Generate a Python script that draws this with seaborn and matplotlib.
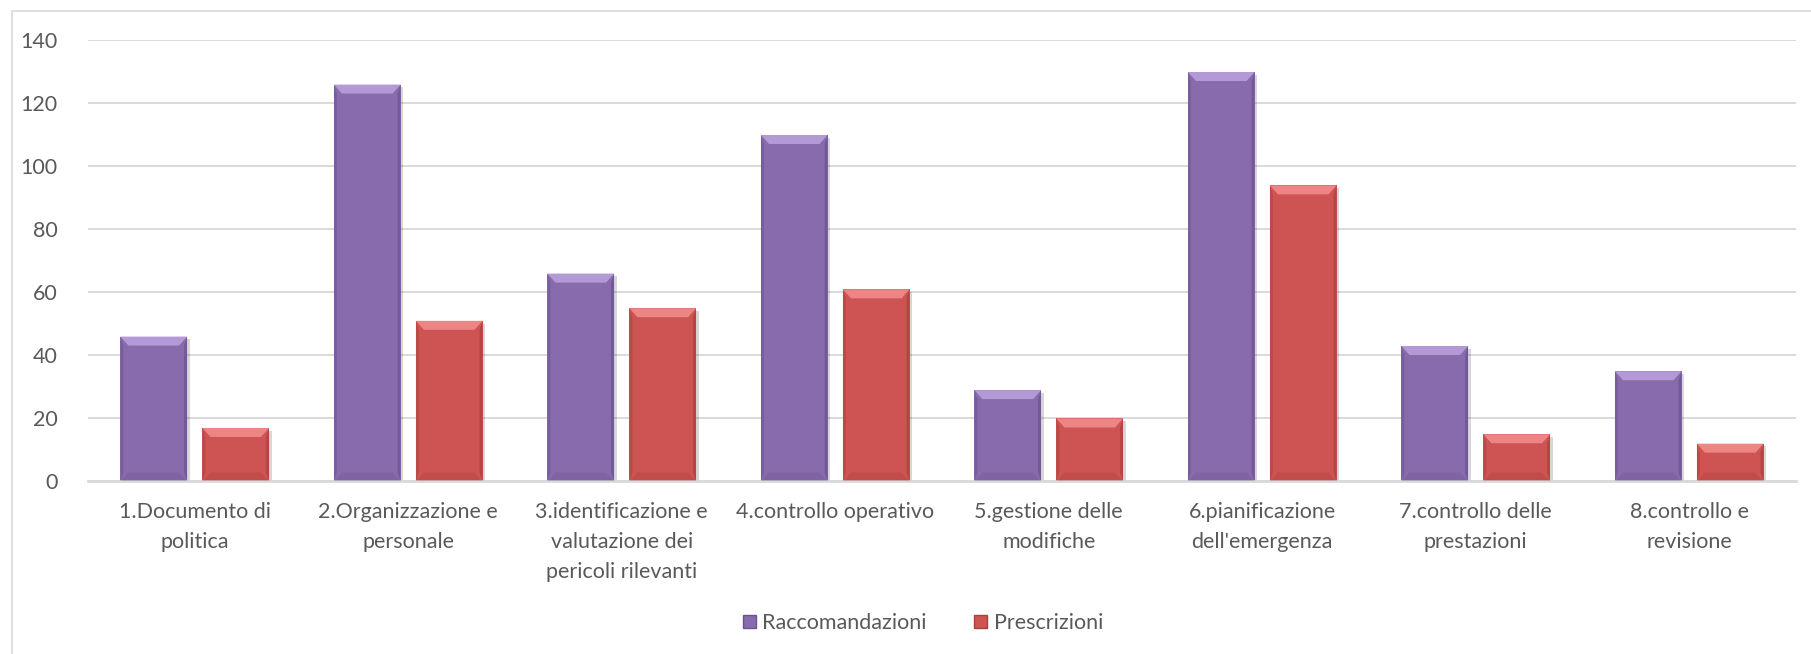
import matplotlib
matplotlib.use("Agg")
import matplotlib.pyplot as plt
import matplotlib.patheffects as pe
from matplotlib.patches import Polygon, Rectangle
import pandas as pd
import seaborn as sns

# ── Data ────────────────────────────────────────────────
categories = [
    "1.Documento di\npolitica",
    "2.Organizzazione e\npersonale",
    "3.identificazione e\nvalutazione dei\npericoli rilevanti",
    "4.controllo operativo",
    "5.gestione delle\nmodifiche",
    "6.pianificazione\ndell'emergenza",
    "7.controllo delle\nprestazioni",
    "8.controllo e\nrevisione",
]
raccomandazioni = [46, 126, 66, 110, 29, 130, 43, 35]
prescrizioni = [17, 51, 55, 61, 20, 94, 15, 12]
series_names = ["Raccomandazioni", "Prescrizioni"]
y_ticks = [0, 20, 40, 60, 80, 100, 120, 140]

colors = ["#886BAC", "#CD5452"]
light = ["#B39AD6", "#EC8684"]
dark = ["#6B5290", "#A8403E"]
text_col = "#595959"
font_size = 15.5

df = pd.DataFrame({
    "categoria": categories * 2,
    "valore": raccomandazioni + prescrizioni,
    "serie": [series_names[0]] * len(categories) + [series_names[1]] * len(categories),
})

sns.set_theme(style="white")
plt.rcParams["font.family"] = ["Lato", "DejaVu Sans"]

fig = plt.figure(figsize=(18.11, 6.54), dpi=100)
ax = fig.add_axes([0.0486, 0.2638, 0.9431, 0.6743])

sns.barplot(data=df, x="categoria", y="valore", hue="serie", palette=colors,
            width=0.768, gap=0.1875, ax=ax, legend=False, saturation=1,
            edgecolor="none")

ax.set_ylim(0, 140)
ax.set_xlim(-0.5, len(categories) - 0.5)
ax.set_yticks(y_ticks)
ax.grid(axis="y", color="#D9D9D9", linewidth=1.4, zorder=0)
ax.set_axisbelow(True)
for s in ["top", "right", "left"]:
    ax.spines[s].set_visible(False)
ax.spines["bottom"].set_color("#D9D9D9")
ax.spines["bottom"].set_linewidth(2)
ax.tick_params(axis="both", length=0, labelsize=font_size, labelcolor=text_col)
ax.tick_params(axis="x", pad=15)
ax.tick_params(axis="y", pad=22)
for lbl in ax.get_xticklabels():
    lbl.set_linespacing(1.62)
    lbl.set_verticalalignment("top")
ax.set_xlabel("")
ax.set_ylabel("")

# ── Bevel effect on each bar ────────────────────────────
fig.canvas.draw()
inv = ax.transData.inverted()
bev_px = 9
for i, patch in enumerate(ax.patches):
    k = i // len(categories)
    x0, y0 = patch.get_x(), patch.get_y()
    w, h = patch.get_width(), patch.get_height()
    patch.set_path_effects([pe.SimplePatchShadow(offset=(2, -2), alpha=0.18), pe.Normal()])
    px0, py0 = ax.transData.transform((x0, y0))
    px1, py1 = ax.transData.transform((x0 + w, y0 + h))
    b = min(bev_px, (py1 - py0) / 2.5)
    bx = 8
    pts = lambda arr: [inv.transform(p) for p in arr]
    top = pts([(px0, py1), (px1, py1), (px1 - bx, py1 - b), (px0 + bx, py1 - b)])
    bot = pts([(px0, py0), (px1, py0), (px1 - bx, py0 + b), (px0 + bx, py0 + b)])
    left = pts([(px0, py0), (px0 + 3, py0 + b), (px0 + 3, py1 - b), (px0, py1)])
    right = pts([(px1, py0), (px1 - 3, py0 + b), (px1 - 3, py1 - b), (px1, py1)])
    ax.add_patch(Polygon(top, closed=True, facecolor=light[k], edgecolor="none", zorder=3))
    ax.add_patch(Polygon(bot, closed=True, facecolor=dark[k], edgecolor="none", alpha=0.3, zorder=3))
    ax.add_patch(Polygon(left, closed=True, facecolor=dark[k], edgecolor="none", alpha=0.5, zorder=3))
    ax.add_patch(Polygon(right, closed=True, facecolor=dark[k], edgecolor="none", alpha=0.7, zorder=3))

# ── Legend ──────────────────────────────────────────────
handles = [Rectangle((0, 0), 1, 1, facecolor=c, edgecolor=d, linewidth=1)
           for c, d in zip(colors, dark)]
fig.legend(handles, series_names, loc="center", bbox_to_anchor=(923 / 1811, 1 - 623 / 654),
           ncol=2, frameon=False, fontsize=font_size, labelcolor=text_col,
           handlelength=0.6, handleheight=0.6, handletextpad=0.3, columnspacing=2.2)

# chart border
fig.add_artist(Rectangle((12 / 1811, -0.1), 1.2, 1 - 11 / 654 + 0.1,
                         transform=fig.transFigure, fill=False,
                         edgecolor="#D9D9D9", linewidth=1.2))

fig.savefig("out.png", dpi=100)
